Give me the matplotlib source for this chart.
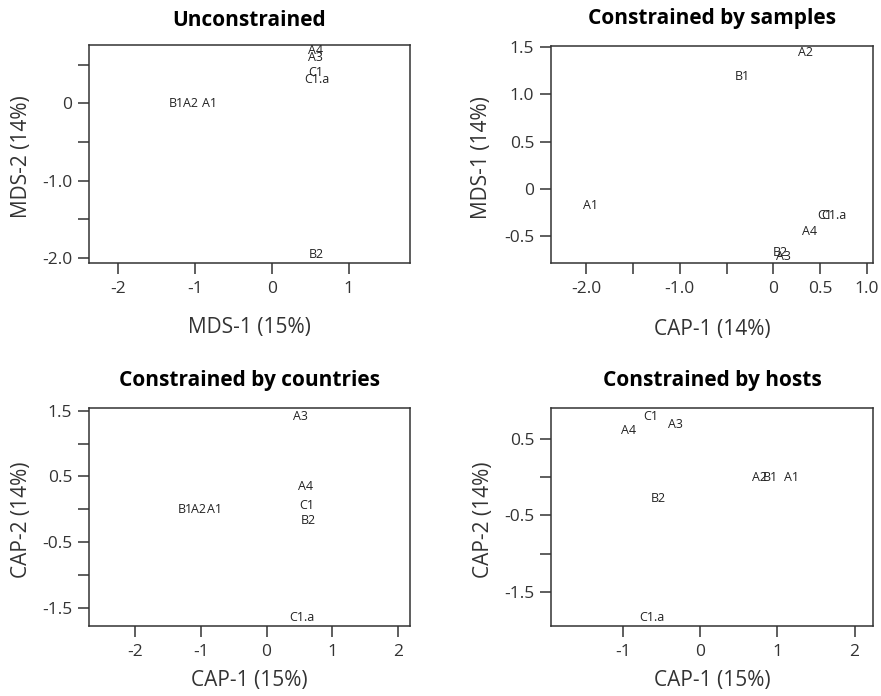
import numpy as np
import matplotlib
matplotlib.use('Agg')
import matplotlib.pyplot as plt

plt.rcParams['font.family'] = ['Open Sans', 'DejaVu Sans']

names = ['A1', 'A2', 'A3', 'A4', 'B1', 'B2', 'C1', 'C1.a']

# unconstrained MDS
x_unc = [-0.81, -1.05, 0.565, 0.565, -1.235, 0.576, 0.57, 0.585]
y_unc = [0.0, 0.0, 0.595, 0.69, 0.0, -1.95, 0.40, 0.315]

# constrained by samples
x_smp = [-1.953, 0.347, 0.107, 0.392, -0.327, 0.072, 0.552, 0.65]
y_smp = [-0.173, 1.442, -0.72, -0.449, 1.188, -0.675, -0.286, -0.286]

# constrained by countries
x_cty = [-0.787, -1.03, 0.523, 0.598, -1.244, 0.633, 0.618, 0.533]
y_cty = [0.0, 0.0, 1.41, 0.34, 0.0, -0.178, 0.055, -1.644]

# constrained by hosts
x_hst = [1.188, 0.768, -0.324, -0.92, 0.907, -0.54, -0.635, -0.618]
y_hst = [0.0, 0.0, 0.69, 0.603, 0.0, -0.286, 0.794, -1.827]

titles = ['Unconstrained', 'Constrained by samples',
          'Constrained by countries', 'Constrained by hosts']
xlabels = ['MDS-1 (15%)', 'CAP-1 (14%)', 'CAP-1 (15%)', 'CAP-1 (15%)']
ylabels = ['MDS-2 (14%)', 'MDS-1 (14%)', 'CAP-2 (14%)', 'CAP-2 (14%)']

xticks = [[-2, -1, 0, 1],
          [-2, -1.5, -1, -0.5, 0, 0.5, 1.0],
          [-2, -1, 0, 1, 2],
          [-1, 0, 1, 2]]
xticklabels = [['-2', '-1', '0', '1'],
               ['-2.0', '', '-1.0', '', '0', '0.5', '1.0'],
               ['-2', '-1', '0', '1', '2'],
               ['-1', '0', '1', '2']]
yticks = [[0.5, 0, -0.5, -1, -1.5, -2],
          [1.5, 1.0, 0.5, 0, -0.5],
          [1.5, 1, 0.5, 0, -0.5, -1, -1.5],
          [0.5, 0, -0.5, -1, -1.5]]
yticklabels = [['', '0', '', '-1.0', '', '-2.0'],
               ['1.5', '1.0', '0.5', '0', '-0.5'],
               ['1.5', '', '0.5', '', '-0.5', '', '-1.5'],
               ['0.5', '', '-0.5', '', '-1.5']]

xlims = [(-2.376, 1.80), (-2.378, 1.063), (-2.705, 2.186), (-1.93, 2.245)]
ylims = [(-2.066, 0.755), (-0.791, 1.516), (-1.772, 1.537), (-1.936, 0.895)]

xs = [x_unc, x_smp, x_cty, x_hst]
ys = [y_unc, y_smp, y_cty, y_hst]

# axes rectangles (left, bottom, width, height) in figure fraction
rects = [[0.101, 0.622, 0.3644, 0.3132],
         [0.6254, 0.6217, 0.3652, 0.3126],
         [0.101, 0.101, 0.3645, 0.3124],
         [0.6254, 0.101, 0.366, 0.3124]]
xlab_y = [-0.294, -0.306, -0.25, -0.25]
ylab_x = [-0.209, -0.215, -0.21, -0.21]
title_y = [1.115, 1.126, 1.13, 1.13]

fig = plt.figure(figsize=(8.81, 6.96), dpi=100)
dark = '#333333'

for k in range(4):
    ax = fig.add_axes(rects[k])
    for i in range(len(names)):
        ax.text(xs[k][i], ys[k][i], names[i], ha='center', va='center',
                fontsize=9, color='#222222')
    ax.set_xlim(xlims[k])
    ax.set_ylim(ylims[k])
    ax.set_xticks(xticks[k])
    ax.set_xticklabels(xticklabels[k])
    ax.set_yticks(yticks[k])
    ax.set_yticklabels(yticklabels[k])
    ax.tick_params(direction='out', length=8, width=1.1, color=dark,
                   labelsize=12.5, labelcolor=dark)
    ax.tick_params(axis='x', pad=5)
    ax.tick_params(axis='y', pad=4)
    for s in ax.spines.values():
        s.set_color(dark)
        s.set_linewidth(1.1)
    ax.set_xlabel(xlabels[k], fontsize=15, color=dark, va='center')
    ax.xaxis.set_label_coords(0.5, xlab_y[k])
    ax.set_ylabel(ylabels[k], fontsize=15, color=dark, va='center')
    ax.yaxis.set_label_coords(ylab_x[k], 0.488)
    ax.text(0.5, title_y[k], titles[k], transform=ax.transAxes,
            ha='center', va='center', fontsize=15, fontweight='bold')

plt.savefig('out.png', dpi=100)
